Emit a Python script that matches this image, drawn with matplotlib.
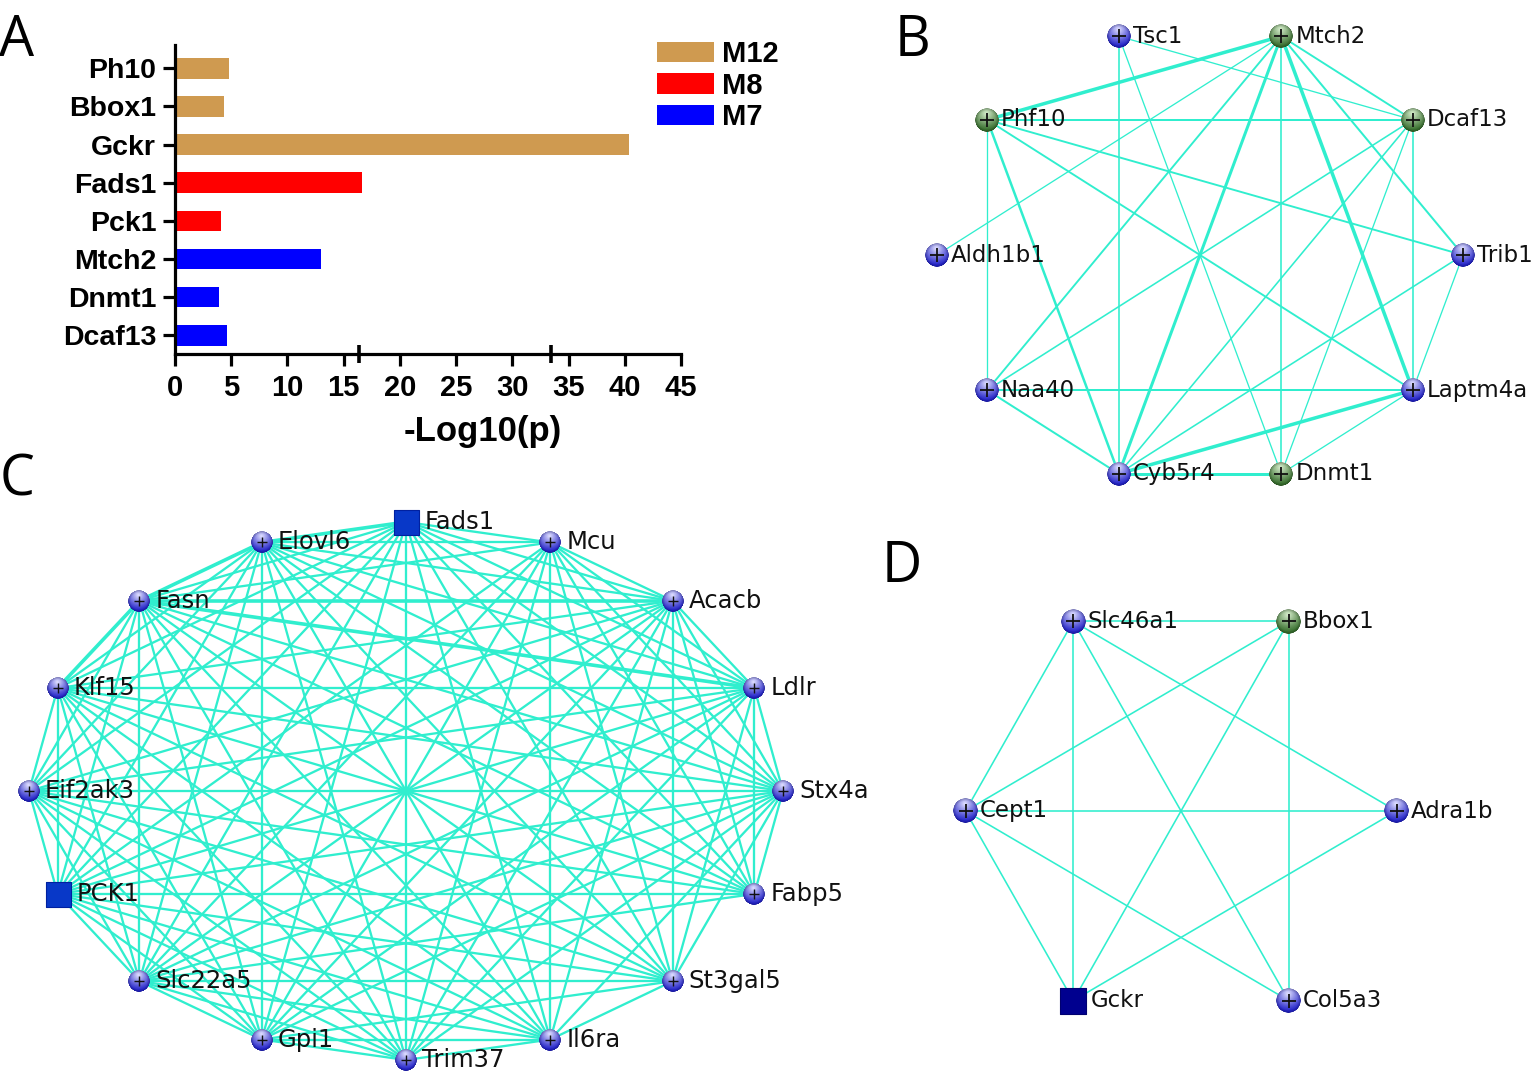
import numpy as np
import matplotlib
matplotlib.use("Agg")
import matplotlib.pyplot as plt
from matplotlib.collections import LineCollection
from matplotlib.offsetbox import OffsetImage, AnnotationBbox
from matplotlib.patches import Patch
from itertools import combinations

W, H = 1535, 1074
fig = plt.figure(figsize=(W / 100, H / 100), dpi=100)

# ---------------- data: panel A ----------------
genes_A = ["Ph10", "Bbox1", "Gckr", "Fads1", "Pck1", "Mtch2", "Dnmt1", "Dcaf13"]
values_A = [4.8, 4.4, 40.4, 16.6, 4.1, 13.0, 3.9, 4.6]
module_A = ["M12", "M12", "M12", "M8", "M8", "M7", "M7", "M7"]
modules = ["M12", "M8", "M7"]
module_colors = {"M12": "#CF9A50", "M8": "#FF0000", "M7": "#0000FF"}
xticks_A = [0, 5, 10, 15, 20, 25, 30, 35, 40, 45]
extra_marks_A = [16.4, 33.4]

# ---------------- data: panel B ----------------
nodes_B = ["Trib1", "Dcaf13", "Mtch2", "Tsc1", "Phf10", "Aldh1b1",
           "Naa40", "Cyb5r4", "Dnmt1", "Laptm4a"]
green_B = ["Mtch2", "Dcaf13", "Phf10", "Dnmt1"]
edges_B = [
    ("Mtch2", "Phf10", 3.5), ("Mtch2", "Aldh1b1", 1.3), ("Mtch2", "Naa40", 1.9),
    ("Mtch2", "Cyb5r4", 3.0), ("Mtch2", "Dnmt1", 1.6), ("Mtch2", "Laptm4a", 3.5),
    ("Mtch2", "Trib1", 2.0), ("Mtch2", "Dcaf13", 1.9),
    ("Tsc1", "Cyb5r4", 1.6), ("Tsc1", "Dcaf13", 1.3), ("Tsc1", "Dnmt1", 1.3),
    ("Dcaf13", "Phf10", 2.0), ("Dcaf13", "Naa40", 1.6), ("Dcaf13", "Cyb5r4", 1.6),
    ("Dcaf13", "Dnmt1", 1.3), ("Dcaf13", "Laptm4a", 1.6),
    ("Trib1", "Phf10", 1.9), ("Trib1", "Laptm4a", 1.3), ("Trib1", "Cyb5r4", 1.6),
    ("Laptm4a", "Naa40", 2.0), ("Laptm4a", "Cyb5r4", 3.5), ("Laptm4a", "Dnmt1", 1.3),
    ("Laptm4a", "Phf10", 1.9),
    ("Dnmt1", "Cyb5r4", 3.0),
    ("Cyb5r4", "Naa40", 2.0), ("Cyb5r4", "Phf10", 2.5),
    ("Naa40", "Phf10", 1.3),
]

# ---------------- data: panel C ----------------
nodes_C = ["Stx4a", "Ldlr", "Acacb", "Mcu", "Fads1", "Elovl6", "Fasn", "Klf15",
           "Eif2ak3", "PCK1", "Slc22a5", "Gpi1", "Trim37", "Il6ra", "St3gal5", "Fabp5"]
square_C = ["Fads1", "PCK1"]
missing_C = [("St3gal5", "Fabp5"), ("Il6ra", "Fabp5"), ("Gpi1", "Fabp5"),
             ("Trim37", "St3gal5"), ("Mcu", "Eif2ak3"), ("Mcu", "Klf15"),
             ("Il6ra", "Ldlr"), ("Trim37", "Fabp5")]
thick_C = [("Fasn", "Acacb"), ("Fasn", "Ldlr"), ("Elovl6", "Fasn"),
           ("Fads1", "Elovl6"), ("Klf15", "Fasn")]

# ---------------- data: panel D ----------------
nodes_D = ["Adra1b", "Bbox1", "Slc46a1", "Cept1", "Gckr", "Col5a3"]
green_D = ["Bbox1"]
edges_D = [("Slc46a1", "Bbox1"), ("Slc46a1", "Cept1"), ("Slc46a1", "Gckr"),
           ("Slc46a1", "Col5a3"), ("Slc46a1", "Adra1b"), ("Bbox1", "Cept1"),
           ("Bbox1", "Gckr"), ("Bbox1", "Col5a3"), ("Cept1", "Adra1b"),
           ("Cept1", "Gckr"), ("Cept1", "Col5a3"), ("Gckr", "Adra1b")]

EDGE = "#30EECE"
PX = 0.72  # points per pixel at dpi 100

# ================= Panel A =================
boldfam = ["Liberation Sans Narrow", "Liberation Sans", "DejaVu Sans"]
axA = fig.add_axes([175 / W, 1 - 354 / H, 506 / W, 309 / H])
ypos = np.arange(len(genes_A))[::-1]
axA.barh(ypos, values_A, height=0.54,
         color=[module_colors[m] for m in module_A], zorder=2)
axA.set_xlim(0, 45)
axA.set_ylim(-0.49, 7.61)
for s in ["top", "right"]:
    axA.spines[s].set_visible(False)
for s in ["left", "bottom"]:
    axA.spines[s].set_linewidth(2.3)
axA.set_yticks(ypos)
axA.set_yticklabels(genes_A, fontfamily=boldfam, fontweight="bold", fontsize=20.5)
axA.set_xticks(xticks_A)
axA.set_xticklabels([str(v) for v in xticks_A], fontfamily=boldfam,
                    fontweight="bold", fontsize=21)
axA.set_xticks(extra_marks_A, minor=True)
axA.tick_params(axis="both", which="major", length=8.5, width=2.3, pad=5)
axA.tick_params(axis="x", which="major", pad=6)
axA.tick_params(axis="x", which="minor", direction="inout", length=13, width=2.6)
axA.text((483 - 175) / 506, (354 - 432) / 309, "-Log10(p)", transform=axA.transAxes,
         ha="center", va="center", fontfamily=boldfam, fontweight="bold", fontsize=25)
leg = axA.legend(handles=[Patch(facecolor=module_colors[m], label=m) for m in modules],
                 loc="upper left", bbox_to_anchor=(657 / W, 1 - 40 / H),
                 bbox_transform=fig.transFigure, frameon=False,
                 handlelength=1.95, handleheight=0.7, borderpad=0, borderaxespad=0,
                 handletextpad=0.28, labelspacing=0.12,
                 prop={"family": boldfam, "weight": "bold", "size": 21})


# ================= network helpers =================
def sphere_img(dark, light, n=96):
    y, x = np.mgrid[-1:1:n * 1j, -1:1:n * 1j]
    r = np.sqrt(x ** 2 + y ** 2)
    d = np.sqrt((x + 0.05) ** 2 + (y + 0.55) ** 2)
    f = np.clip(1 - d / 1.4, 0, 1) ** 1.1
    dark = np.array(dark) / 255.0
    light = np.array(light) / 255.0
    col = dark[None, None, :] + (light - dark)[None, None, :] * f[..., None]
    edge = np.clip((r - 0.75) / 0.25, 0, 1)
    col = col * (1 - 0.22 * edge[..., None])
    alpha = np.clip((1 - r) * n / 2.0, 0, 1)
    return np.dstack([np.clip(col, 0, 1), alpha])


BLUE_SPH = sphere_img((35, 35, 200), (225, 225, 255))
GREEN_SPH = sphere_img((55, 110, 45), (215, 238, 205))


def net_axes(cx, cy, rx, ry, L=1.35):
    ax = fig.add_axes([(cx - L * rx) / W, 1 - (cy + L * ry) / H,
                       2 * L * rx / W, 2 * L * ry / H])
    ax.set_xlim(-L, L)
    ax.set_ylim(-L, L)
    ax.axis("off")
    return ax


def circle_layout(names):
    n = len(names)
    ang = 2 * np.pi * np.arange(n) / n
    return {nm: (np.cos(a), np.sin(a)) for nm, a in zip(names, ang)}


def draw_network(ax, names, edges, styles, node_px, label_off_px, fontsize,
                 plus_s, plus_lw):
    pos = circle_layout(names)
    segs = [[pos[a], pos[b]] for a, b, w in edges]
    widths = [w * PX for a, b, w in edges]
    ax.add_collection(LineCollection(segs, colors=EDGE, linewidths=widths,
                                     zorder=1, clip_on=False, capstyle="round"))
    for nm in names:
        x, y = pos[nm]
        st = styles.get(nm, "blue")
        if st in ("blue", "green"):
            img = BLUE_SPH if st == "blue" else GREEN_SPH
            ab = AnnotationBbox(OffsetImage(img, zoom=node_px / img.shape[0], dpi_cor=False),
                                (x, y), frameon=False, pad=0, zorder=3,
                                annotation_clip=False)
            ax.add_artist(ab)
            ax.scatter([x], [y], marker="+", s=plus_s, c="#111111",
                       linewidths=plus_lw, zorder=4, clip_on=False)
        else:
            fc, ec, side = st
            ax.scatter([x], [y], marker="s", s=(side * PX) ** 2, c=fc,
                       edgecolors=ec, linewidths=0.8, zorder=3, clip_on=False)
        off = label_off_px if st in ("blue", "green") else label_off_px + 3
        ax.annotate(nm, (x, y), xytext=(off * PX, 0), textcoords="offset points",
                    ha="left", va="center", fontsize=fontsize, color="#111111",
                    fontfamily="DejaVu Sans", zorder=5, annotation_clip=False)


# ================= Panel B =================
axB = net_axes(1200, 255, 263, 230)
styles_B = {nm: ("green" if nm in green_B else "blue") for nm in nodes_B}
draw_network(axB, nodes_B, edges_B, styles_B, 24, 14, 16.5, 95, 1.3)

# ================= Panel C =================
axC = net_axes(406, 791, 377, 269)
edges_C = []
for a, b in combinations(nodes_C, 2):
    if (a, b) in missing_C or (b, a) in missing_C:
        continue
    w = 3.6 if ((a, b) in thick_C or (b, a) in thick_C) else 2.3
    edges_C.append((a, b, w))
styles_C = {nm: "blue" for nm in nodes_C}
for nm in square_C:
    styles_C[nm] = ("#0838C8", "#0020A0", 25)
draw_network(axC, nodes_C, edges_C, styles_C, 22, 16, 17.5, 45, 1.0)

# ================= Panel D =================
axD = net_axes(1181, 811, 215.5, 219)
styles_D = {nm: ("green" if nm in green_D else "blue") for nm in nodes_D}
styles_D["Gckr"] = ("#00008F", "#000070", 27)
draw_network(axD, nodes_D, [(a, b, 1.6) for a, b in edges_D], styles_D, 25, 14,
             16.5, 95, 1.3)

# ================= panel letters =================
for letter, (px, py) in {"A": (17, 42), "B": (912, 41), "C": (17, 481), "D": (902, 567)}.items():
    fig.text(px / W, 1 - py / H, letter, ha="center", va="center",
             fontsize=40, fontfamily=["Open Sans", "DejaVu Sans"], color="black")

fig.savefig("out.png", dpi=100)
